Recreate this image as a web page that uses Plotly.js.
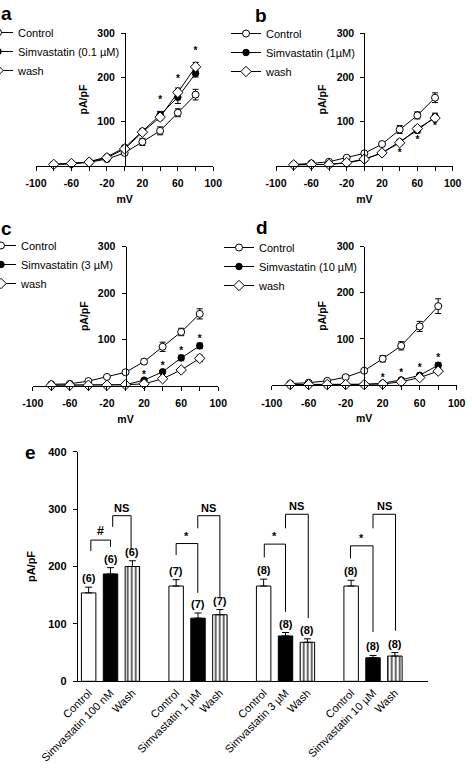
<!DOCTYPE html>
<html>
<head>
<meta charset="utf-8">
<script src="https://cdn.plot.ly/plotly-3.0.1.min.js"></script>
<style>html,body{margin:0;padding:0;background:#fff;}#chart{width:472px;height:768px;}</style>
</head>
<body>
<div id="chart"></div>
<script>
// ---------- data ----------
const mV = [-80, -60, -40, -20, 0, 20, 40, 60, 80];
const xTickVals = [-100, -80, -60, -40, -20, 0, 20, 40, 60, 80, 100];
const xTickText = ['-100', '', '-60', '', '-20', '', '20', '', '60', '', '100'];
const yTickVals = [100, 200, 300];

// panel a
const aControl = [3, 4, 8, 15, 29, 54, 79, 120, 161];
const aControlErr = [1, 1, 2, 3, 4, 8, 9, 9, 12];
const aSimva = [3, 5, 9, 20, 41, 78, 115, 155, 209];
const aSimvaErr = [1, 1, 2, 3, 4, 5, 8, 14, 8];
const aWash = [3, 5, 8, 18, 38, 76, 110, 166, 224];
const aWashErr = [1, 1, 2, 3, 4, 5, 7, 10, 10];
const aStarX = [40, 60, 80];
const aStarY = [147, 196, 258];
// panel b
const bControl = [3, 5, 9, 18, 28, 49, 82, 114, 154];
const bControlErr = [1, 1, 2, 2, 3, 5, 9, 8, 11];
const bSimva = [2, 3, 3, 6, 14, 29, 54, 80, 111];
const bSimvaErr = [1, 1, 1, 2, 3, 4, 5, 6, 8];
const bWash = [2, 3, 3, 7, 15, 29, 52, 84, 108];
const bWashErr = [1, 1, 1, 2, 3, 4, 5, 6, 6];
const bStarX = [40, 60, 80];
const bStarY = [28, 57, 88];
// panel c
const cControl = [3, 4, 10, 19, 29, 52, 84, 116, 155];
const cControlErr = [1, 1, 2, 2, 3, 5, 10, 8, 11];
const cSimva = [1, 1, 1, 1, 2, 12, 30, 60, 86];
const cSimvaErr = [0.5, 0.5, 0.5, 0.5, 1, 3, 3, 6, 6];
const cWash = [1, 1, 1, 1, 2, 4, 15, 34, 59];
const cWashErr = [0.5, 0.5, 0.5, 0.5, 1, 1, 2, 5, 7];
const cStarX = [20, 40, 60, 80];
const cStarY = [22, 41, 73, 100];
// panel d
const dControl = [3, 5, 9, 17, 31, 57, 85, 127, 171];
const dControlErr = [1, 1, 2, 2, 3, 7, 9, 11, 16];
const dSimva = [1, 1, 1, 1, 1, 4, 11, 21, 43];
const dSimvaErr = [0.5, 0.5, 0.5, 0.5, 0.5, 1, 2, 3, 5];
const dWash = [1, 1, 1, 1, 1, 2, 7, 16, 30];
const dWashErr = [0.5, 0.5, 0.5, 0.5, 0.5, 1, 2, 3, 5];
const dStarX = [20, 40, 60, 80];
const dStarY = [14, 24, 35, 58];

const legendNames = {
  a: ['Control', 'Simvastatin (0.1 \u00B5M)', 'wash'],
  b: ['Control', 'Simvastatin (1\u00B5M)', 'wash'],
  c: ['Control', 'Simvastatin (3 \u00B5M)', 'wash'],
  d: ['Control', 'Simvastatin (10 \u00B5M)', 'wash']
};

// panel e
const eLabels = ['Control', 'Simvastatin 100 nM', 'Wash', 'Control', 'Simvastatin 1 \u00B5M', 'Wash',
                 'Control', 'Simvastatin 3 \u00B5M', 'Wash', 'Control', 'Simvastatin 10 \u00B5M', 'Wash'];
const ePositions = [0, 1, 2, 4, 5, 6, 8, 9, 10, 12, 13, 14];
const eValues = [154, 187, 200, 166, 110, 116, 166, 79, 68, 166, 41, 44];
const eErr = [10, 11, 10, 11, 9, 9, 12, 6, 6, 10, 4, 6];
const eN = ['(6)', '(6)', '(6)', '(7)', '(7)', '(7)', '(8)', '(8)', '(8)', '(8)', '(8)', '(8)'];
const eKind = ['c', 's', 'w', 'c', 's', 'w', 'c', 's', 'w', 'c', 's', 'w'];
// significance brackets: [xLeft, xRight, yLeftBottom, yTop, yRightBottom, label]
const eBrackets = [
  [0.1, 1.0, 227, 246, 234, '#'],
  [1.1, 1.94, 269, 288.5, 229, 'NS'],
  [4.0, 4.99, 220, 240, 154, '*'],
  [4.99, 6.0, 266.5, 288.5, 147, 'NS'],
  [8.03, 9.0, 216, 239, 121, '*'],
  [9.0, 10.04, 266.5, 291, 110, 'NS'],
  [11.97, 13.0, 214, 236, 86, '*'],
  [13.0, 14.03, 266.5, 291, 88, 'NS']
];

// ---------- styling helpers ----------
const FONT = 'Liberation Sans, Arial, sans-serif';
const W = 472, H = 768;
const px = v => v / W;
const py = v => 1 - v / H;

const traces = [];
const panels = [
  {k: 'a', n: '', ctl: aControl, ctlE: aControlErr, sim: aSimva, simE: aSimvaErr, wash: aWash, washE: aWashErr, sx: aStarX, sy: aStarY,
   xd: [36, 213.3], yd: [165.7, 33.3], yp: 125, leg: 'legend', lx: -22, ly: 18},
  {k: 'b', n: '2', ctl: bControl, ctlE: bControlErr, sim: bSimva, simE: bSimvaErr, wash: bWash, washE: bWashErr, sx: bStarX, sy: bStarY,
   xd: [276, 452.7], yd: [165.7, 33.3], yp: 364.3, leg: 'legend2', lx: 226, ly: 19},
  {k: 'c', n: '3', ctl: cControl, ctlE: cControlErr, sim: cSimva, simE: cSimvaErr, wash: cWash, washE: cWashErr, sx: cStarX, sy: cStarY,
   xd: [32.7, 218.3], yd: [385.7, 246.7], yp: 125.5, leg: 'legend3', lx: -19, ly: 231},
  {k: 'd', n: '4', ctl: dControl, ctlE: dControlErr, sim: dSimva, simE: dSimvaErr, wash: dWash, washE: dWashErr, sx: dStarX, sy: dStarY,
   xd: [271.7, 456.7], yd: [385, 246.7], yp: 364.3, leg: 'legend4', lx: 219, ly: 233}
];

const layout = {
  width: W, height: H,
  margin: {l: 0, r: 0, t: 0, b: 0, autoexpand: false},
  paper_bgcolor: '#fff', plot_bgcolor: 'rgba(0,0,0,0)',
  font: {family: FONT, color: '#000', size: 11},
  showlegend: true,
  annotations: [], shapes: []
};

const errStyle = (arr) => ({type: 'data', array: arr, visible: true, color: '#000', thickness: 1, width: 3});

panels.forEach(p => {
  const xa = 'x' + p.n, ya = 'y' + p.n;
  const names = legendNames[p.k];
  const common = {x: mV, xaxis: xa, yaxis: ya, mode: 'lines+markers', line: {color: '#000', width: 1}, cliponaxis: false, legend: p.leg};
  traces.push(Object.assign({}, common, {y: p.ctl, name: names[0], error_y: errStyle(p.ctlE),
    marker: {symbol: 'circle', size: 7, color: '#fff', line: {color: '#000', width: 1}}}));
  traces.push(Object.assign({}, common, {y: p.sim, name: names[1], error_y: errStyle(p.simE),
    marker: {symbol: 'circle', size: 6.5, color: '#000', line: {color: '#000', width: 1}}}));
  traces.push(Object.assign({}, common, {y: p.wash, name: names[2], error_y: errStyle(p.washE),
    marker: {symbol: 'diamond', size: 8, color: '#fff', line: {color: '#000', width: 1}}}));
  traces.push({x: p.sx, y: p.sy, xaxis: xa, yaxis: ya, mode: 'text', text: p.sx.map(() => '*'), showlegend: false,
    cliponaxis: false, textfont: {family: FONT, size: 10, color: '#000', weight: 'bold'}, hoverinfo: 'skip'});

  layout['xaxis' + p.n] = {
    domain: [px(p.xd[0]), px(p.xd[1])], range: [-100, 100], anchor: ya, automargin: false,
    showline: true, linecolor: '#000', linewidth: 1, mirror: false,
    ticks: 'outside', ticklen: 4, tickcolor: '#000', tickwidth: 1,
    tickvals: xTickVals, ticktext: xTickText, ticklabelstandoff: 4,
    tickfont: {family: FONT, size: 10.5, color: '#000', weight: 'bold'},
    showgrid: false, zeroline: false,
    title: {text: 'mV', font: {family: FONT, size: 10.5, color: '#000', weight: 'bold'}, standoff: 7}
  };
  layout['yaxis' + p.n] = {
    domain: [py(p.yd[0]), py(p.yd[1])], range: [0, 300], anchor: 'free', position: px(p.yp), automargin: false,
    showline: true, linecolor: '#000', linewidth: 1,
    ticks: 'outside', ticklen: 4, tickcolor: '#000', tickwidth: 1,
    tickvals: yTickVals, ticklabelstandoff: 4,
    tickfont: {family: FONT, size: 10.5, color: '#000', weight: 'bold'},
    showgrid: false, zeroline: false,
    title: {text: 'pA/pF', font: {family: FONT, size: 10.5, color: '#000', weight: 'bold'}, standoff: 6}
  };
  layout[p.leg] = {x: px(p.lx), y: py(p.ly), xanchor: 'left', yanchor: 'top', xref: 'paper', yref: 'paper',
    bgcolor: 'rgba(0,0,0,0)', borderwidth: 0, font: {family: FONT, size: 11, color: '#000'}, itemwidth: 30, tracegroupgap: 0};
});

// panel labels
[['a', 6, 14], ['b', 261, 15], ['c', 6, 228], ['d', 262, 227], ['e', 30, 452]].forEach(l => {
  layout.annotations.push({text: l[0], xref: 'paper', yref: 'paper', x: px(l[1]), y: py(l[2]),
    xanchor: 'center', yanchor: 'middle', showarrow: false,
    font: {family: FONT, size: 19, color: '#000', weight: 'bold'}});
});

// ---------- panel e ----------
const pick = (arr, kind) => arr.filter((_, i) => eKind[i] === kind);
const barCommon = {type: 'bar', xaxis: 'x5', yaxis: 'y5', width: 0.66, showlegend: false, cliponaxis: false};
const barErr = (kind) => ({type: 'data', symmetric: false, array: pick(eErr, kind), arrayminus: pick(eErr, kind).map(() => 0),
  color: '#000', thickness: 1, width: 3.5});
traces.push(Object.assign({}, barCommon, {x: pick(ePositions, 'c'), y: pick(eValues, 'c'), error_y: barErr('c'),
  marker: {color: '#fff', line: {color: '#000', width: 1}}}));
traces.push(Object.assign({}, barCommon, {x: pick(ePositions, 's'), y: pick(eValues, 's'), error_y: barErr('s'),
  marker: {color: '#000', line: {color: '#000', width: 1}}}));
traces.push(Object.assign({}, barCommon, {x: pick(ePositions, 'w'), y: pick(eValues, 'w'), error_y: barErr('w'),
  marker: {color: '#fff', line: {color: '#000', width: 1},
    pattern: {shape: '|', fgcolor: '#000', bgcolor: '#fff', size: 4, solidity: 0.3, fillmode: 'replace'}}}));

layout.barmode = 'overlay';
layout.xaxis5 = {
  domain: [px(77.7), px(427.7)], range: [-0.5, 15.5], anchor: 'y5', automargin: false,
  showline: true, linecolor: '#000', linewidth: 1, ticks: '', showgrid: false, zeroline: false,
  tickvals: ePositions, ticktext: eLabels, tickangle: -45,
  tickfont: {family: FONT, size: 11, color: '#000'}
};
layout.yaxis5 = {
  domain: [py(681.3), py(451.7)], range: [0, 400], anchor: 'x5', automargin: false,
  showline: true, linecolor: '#000', linewidth: 1,
  ticks: 'outside', ticklen: 4, tickcolor: '#000', tickwidth: 1,
  tickvals: [0, 100, 200, 300, 400], ticklabelstandoff: 4,
  tickfont: {family: FONT, size: 11, color: '#000', weight: 'bold'},
  showgrid: false, zeroline: false,
  title: {text: 'pA/pF', font: {family: FONT, size: 11, color: '#000', weight: 'bold'}, standoff: 10}
};

// count labels
ePositions.forEach((x, i) => {
  layout.annotations.push({text: eN[i], xref: 'x5', yref: 'y5', x: x, y: eValues[i] + eErr[i],
    xanchor: 'center', yanchor: 'bottom', yshift: 1, showarrow: false,
    font: {family: FONT, size: 11, color: '#000', weight: 'bold'}});
});
// brackets
eBrackets.forEach(b => {
  layout.shapes.push({type: 'path', xref: 'x5', yref: 'y5',
    path: `M ${b[0]},${b[2]} L ${b[0]},${b[3]} L ${b[1]},${b[3]} L ${b[1]},${b[4]}`,
    line: {color: '#000', width: 1}});
  layout.annotations.push({text: b[5], xref: 'x5', yref: 'y5', x: (b[0] + b[1]) / 2, y: b[3],
    xanchor: 'center', yanchor: 'bottom', yshift: 0, showarrow: false,
    font: {family: FONT, size: b[5] === '#' ? 12.5 : 11, color: '#000', weight: 'bold'}});
});

Plotly.newPlot('chart', traces, layout, {staticPlot: true, displayModeBar: false});
</script>
</body>
</html>
